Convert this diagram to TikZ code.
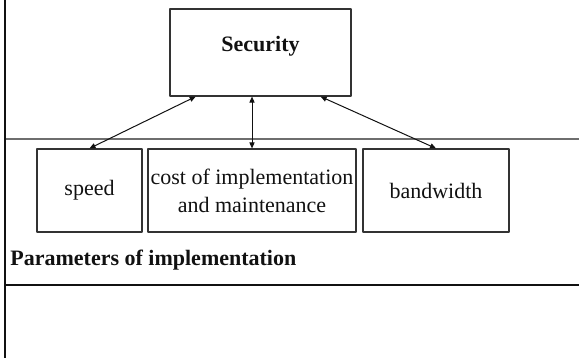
\documentclass[tikz,border=0pt]{standalone}
\usepackage{fontspec}
\setmainfont{Liberation Serif}
\usepackage{xcolor}
\usepackage{tikz}
\usetikzlibrary{arrows.meta,calc}
\definecolor{ink}{HTML}{111111}
\definecolor{rule}{HTML}{6E6E6E}
\definecolor{frame}{HTML}{333333}
\tikzset{fig/.style={line join=round,>={Triangle[length=3pt,width=2.6pt]}},
  pbox/.style={draw=frame,line width=0.6pt,inner sep=0pt,align=center,
    minimum height=41.5pt,font=\fontsize{11}{14}\selectfont,text=ink},
  link/.style={ink,line width=0.5pt,<->}}

\begin{document}
\begin{tikzpicture}[fig,x=0.5pt,y=-0.5pt]
  \useasboundingbox (0,0) rectangle (579,358);
  % frame rules
  \draw[ink,line width=1pt](5,0)--(5,358);
  \draw[rule,line width=0.6pt](6,139)--(579,139);
  \draw[ink,line width=0.6pt](6,285)--(579,285);
  % top box
  \node[pbox,minimum width=90.5pt,minimum height=43.5pt](sec)at(260.5,52.5){};
  \node[font=\fontsize{11}{14}\selectfont\bfseries,text=ink](sectitle)at([yshift=3pt]sec.center){Security};
  % parameter boxes
  \node[pbox,minimum width=52.5pt](speed)at(89.5,190.5){speed};
  \node[pbox,minimum width=104pt](cost)at(252,190.5){cost of implementation\\and maintenance};
  \node[pbox,minimum width=73pt](band)at(436,190.5){bandwidth};
  \node[font=\fontsize{11}{14}\selectfont\bfseries,text=ink,anchor=west,inner sep=0pt](params)at(10,260){Parameters of implementation};
  % links between security and its parameters
  \draw[link]($(sec.south west)!0.144!(sec.south east)$)--(speed.north);
  \draw[link](sec.south -| cost.north)--(cost.north);
  \draw[link]($(sec.south west)!0.83!(sec.south east)$)--(band.north);
\end{tikzpicture}
\end{document}
